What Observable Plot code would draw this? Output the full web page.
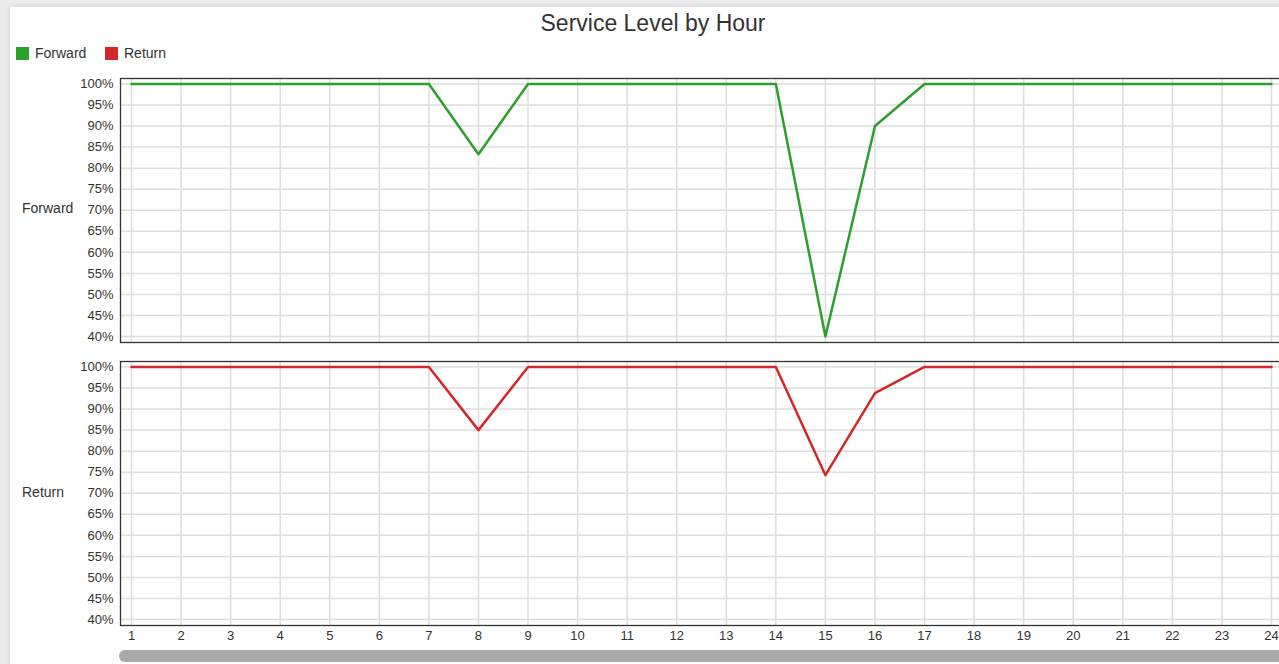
<!DOCTYPE html>
<html>
<head>
<meta charset="utf-8">
<script src="https://cdn.jsdelivr.net/npm/d3@7"></script>
<script src="https://cdn.jsdelivr.net/npm/@observablehq/plot@0.6"></script>
<style>
  html, body { margin: 0; padding: 0; width: 1279px; height: 664px; overflow: hidden; background: #ececec; font-family: "Liberation Sans", Arial, sans-serif; }
  #card { position: absolute; left: 10px; top: 7px; width: 1300px; height: 670px; background: #fff; box-shadow: 0 0 6px rgba(0,0,0,0.12); }
  .abs { position: absolute; }
  #title { left: 0; width: 1306px; top: 10px; text-align: center; font-size: 23px; color: #333; }
  .leg { top: 45px; font-size: 14px; color: #333; display: flex; align-items: center; }
  .sw { width: 13px; height: 13px; display: inline-block; margin-right: 6px; }
  .ylab { font-size: 14px; color: #333; }
  #scroll { left: 119px; top: 650px; width: 1200px; height: 12px; background: #aaa; border-radius: 6px; }
  .plotwrap { width: 1290px; }
  .plotwrap svg { max-width: none !important; display: block; }
</style>
</head>
<body>
<div id="card"></div>
<div id="title" class="abs">Service Level by Hour</div>
<div class="abs leg" style="left:16px"><span class="sw" style="background:#2ca02c"></span>Forward</div>
<div class="abs leg" style="left:105px"><span class="sw" style="background:#d62728"></span>Return</div>
<div class="abs ylab" style="left:22px; top:200px">Forward</div>
<div class="abs ylab" style="left:22px; top:484px">Return</div>
<div id="top" class="abs plotwrap" style="left:0; top:68px"></div>
<div id="bot" class="abs plotwrap" style="left:0; top:351px"></div>
<div id="scroll" class="abs"></div>
<script>
const hours = [1,2,3,4,5,6,7,8,9,10,11,12,13,14,15,16,17,18,19,20,21,22,23,24];
const forwardVals = [100,100,100,100,100,100,100,83.3,100,100,100,100,100,100,40,90,100,100,100,100,100,100,100,100];
const returnVals  = [100,100,100,100,100,100,100,85,100,100,100,100,100,100,74.3,93.8,100,100,100,100,100,100,100,100];
const yTicks = [40,45,50,55,60,65,70,75,80,85,90,95,100];
const seriesColors = {Forward: "#2ca02c", Return: "#d62728"};

function panel(vals, color, showX) {
  const data = hours.map((h, i) => ({hour: h, value: vals[i]}));
  return Plot.plot({
    width: 1290,
    height: showX ? 296 : 274,
    marginLeft: 120,
    marginRight: 8,
    marginTop: 10,
    marginBottom: showX ? 22 : 0,
    style: {fontFamily: "'Liberation Sans', Arial, sans-serif", fontSize: "13px", color: "#333", background: "transparent", overflow: "visible"},
    x: {domain: [1 - 11/49.57, 24 + 11/49.57], axis: null},
    y: {domain: [38.58, 101.3], axis: null},
    marks: [
      Plot.gridX(hours, {stroke: "#ddd", strokeOpacity: 1, strokeWidth: 1.5}),
      Plot.gridY(yTicks, {stroke: "#ddd", strokeOpacity: 1, strokeWidth: 1.5}),
      Plot.axisY(yTicks, {tickFormat: d => d + "%", tickSize: 0, tickPadding: 7, label: null, fontSize: 13}),
      showX ? Plot.axisX(hours, {tickFormat: d => String(d), tickSize: 0, tickPadding: 5, label: null, fontSize: 13}) : null,
      Plot.line(data, {x: "hour", y: "value", stroke: color, strokeWidth: 2.5}),
      Plot.frame({stroke: "#333", strokeWidth: 1.3})
    ]
  });
}
document.getElementById("top").append(panel(forwardVals, seriesColors.Forward, false));
document.getElementById("bot").append(panel(returnVals, seriesColors.Return, true));
</script>
</body>
</html>
